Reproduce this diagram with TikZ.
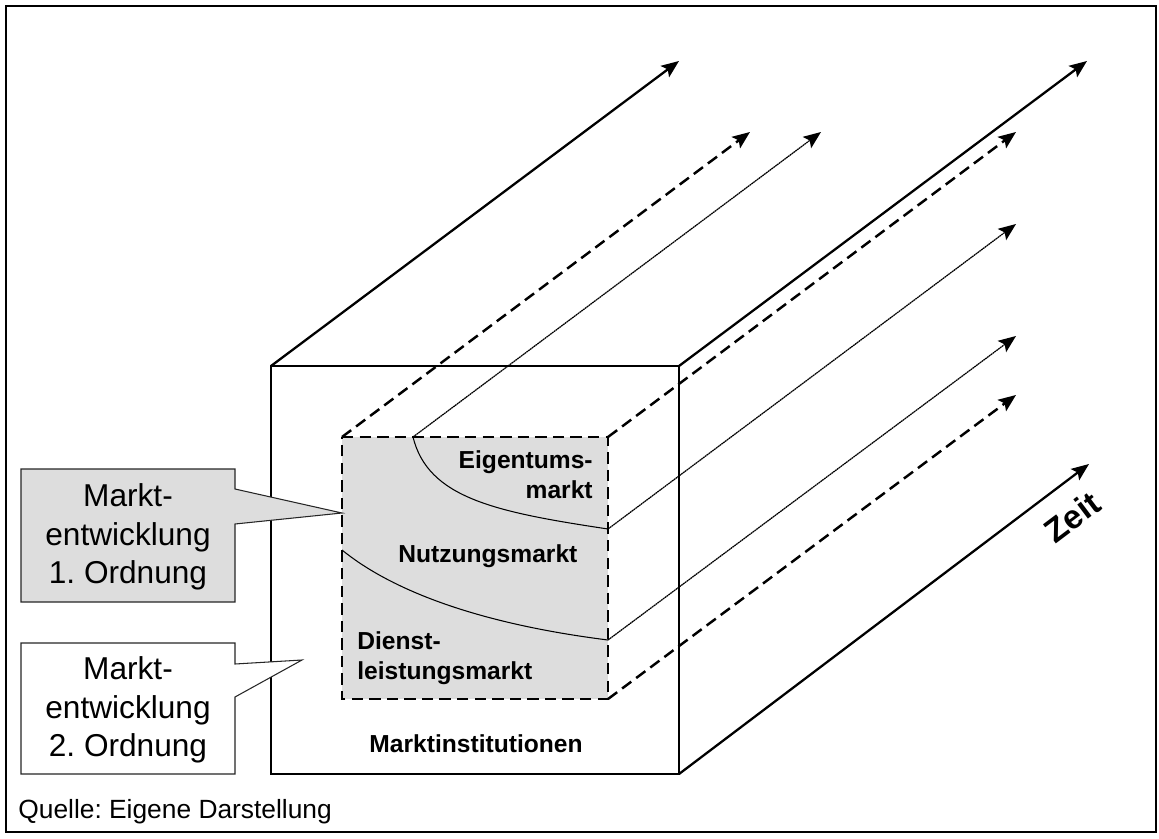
\documentclass[tikz,border=0pt]{standalone}
\usepackage{fontspec}
\setmainfont{Liberation Sans}
\usetikzlibrary{arrows.meta}
\definecolor{facegray}{RGB}{221,221,221}

\begin{document}
\frenchspacing
\begin{tikzpicture}[x=0.02cm,y=-0.02cm,
    cube/.style={line width=1.5pt},
    depth/.style={line width=1.3pt,-{Stealth[length=10pt,width=8pt,inset=2pt]}},
    hidden/.style={line width=1.5pt,dash pattern=on 6.5pt off 3.5pt},
    hiddendepth/.style={hidden,line width=1.4pt,-{Stealth[length=10pt,width=8pt,inset=2pt]}},
    finedepth/.style={line width=0.7pt,dash pattern=on 1pt off 0.3pt,-{Stealth[length=10pt,width=8pt,inset=2pt]}},
    callout/.style={draw=black!85,line width=0.6pt},
    calltext/.style={align=center,inner sep=0pt,font=\fontsize{18}{22}\selectfont},
    marketlabel/.style={inner sep=0pt,font=\fontsize{14}{17}\selectfont\bfseries}]
  \useasboundingbox (0,0) rectangle (1159,838);
  \draw[line width=1.3pt] (6,6) rectangle (1156,832);

  \coordinate (oTL) at (271,366);
  \coordinate (oTR) at (679,366);
  \coordinate (oBR) at (679,774);
  \coordinate (oBL) at (271,774);
  \coordinate (iTL) at (342,437);
  \coordinate (iTR) at (608,437);
  \coordinate (iBR) at (608,699);
  \coordinate (iBL) at (342,699);
  \coordinate (c1s) at (413,437);
  \coordinate (c1e) at (608,529);
  \coordinate (c2s) at (342,550);
  \coordinate (c2e) at (608,640);

  \fill[facegray] (iTL) rectangle (iBR);
  \draw[line width=0.6pt] (c1s) .. controls (428,498) and (495,512) .. (c1e);
  \draw[line width=0.6pt] (c2s) .. controls (385,585) and (465,622) .. (c2e);
  \draw[hidden] (iTL) -- (iTR) -- (iBR) -- (iBL) -- cycle;
  \draw[cube] (oTL) -- (oTR) -- (oBR) -- (oBL) -- cycle;

  \draw[depth] (oTL) -- +(408,-305);
  \draw[depth] (oTR) -- +(408,-305);
  \draw[depth] (oBR) -- +(410,-310);
  \draw[hiddendepth] (iTL) -- +(408,-305);
  \draw[hiddendepth] (iTR) -- +(408,-305);
  \draw[hiddendepth] (iBR) -- +(408,-304);
  \draw[finedepth] (c1s) -- +(408,-305);
  \draw[finedepth] (c1e) -- +(408,-305);
  \draw[finedepth] (c2e) -- +(408,-304);

  \node[marketlabel,align=right,anchor=north east] (eigentum) at (593,450) {Eigentums-\\markt};
  \node[marketlabel,anchor=base west] (nutzung) at (398,562) {Nutzungsmarkt};
  \node[marketlabel,align=left,anchor=north west] (dienst) at (357,631) {Dienst-\\leistungsmarkt};
  \node[marketlabel,anchor=base] (institution) at (476,752) {Marktinstitutionen};
  \node[inner sep=0pt,rotate=37,font=\fontsize{19}{22}\selectfont\bfseries] (zeit) at (1072,517) {Zeit};

  \filldraw[callout,fill=facegray] (21,469) -- (235,469) -- (235,489) -- (342,513) -- (235,524) -- (235,602) -- (21,602) -- cycle;
  \node[calltext] (first) at (128,537) {Markt-\\entwicklung\\1. Ordnung};
  \filldraw[callout,fill=white] (21,643) -- (235,643) -- (235,664) -- (302,660) -- (235,697) -- (235,774) -- (21,774) -- cycle;
  \node[calltext] (second) at (128,710) {Markt-\\entwicklung\\2. Ordnung};

  \node[anchor=base west,inner sep=0pt,font=\fontsize{15}{18}\selectfont] (source) at (18,818) {Quelle: Eigene Darstellung};
\end{tikzpicture}
\end{document}
